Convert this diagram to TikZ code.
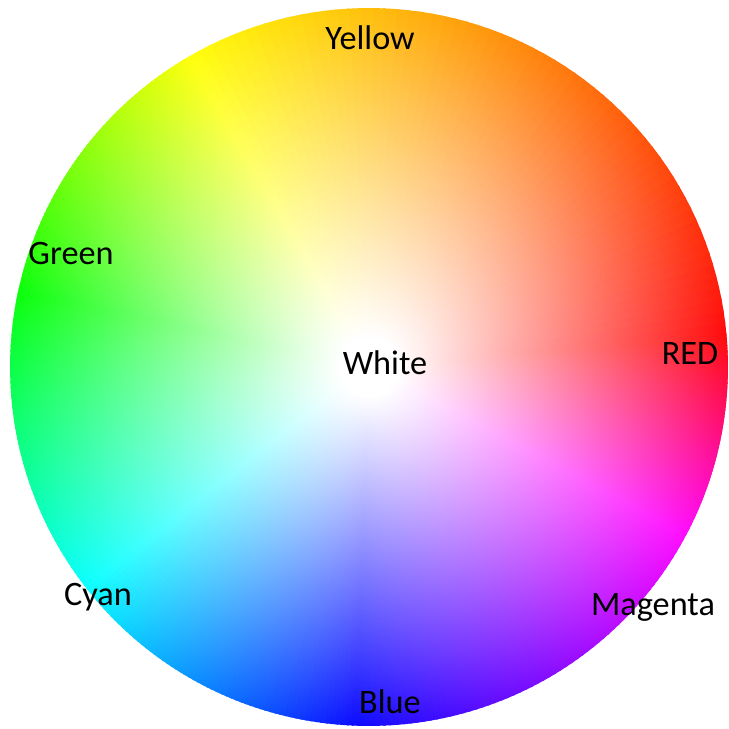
\documentclass[tikz,border=0pt]{standalone}
\usepackage{fontspec}
\setmainfont{Carlito}
\usepackage{tikz}
\usetikzlibrary{fadings}

\definecolor{hred}{rgb}{1,0,0}
\definecolor{hyellow}{rgb}{1,1,0}
\definecolor{hgreen}{rgb}{0,1,0}
\definecolor{hcyan}{rgb}{0,1,1}
\definecolor{hblue}{rgb}{0,0,1}
\definecolor{hmagenta}{rgb}{1,0,1}

% white glow from the middle of the wheel
\pgfdeclareradialshading{whiteshade}{\pgfpointorigin}{color(0bp)=(white); color(2bp)=(white); color(26bp)=(black); color(50bp)=(black)}
\pgfdeclarefading{whitefade}{\pgfuseshading{whiteshade}}

\begin{document}
\begin{tikzpicture}[
    x=0.02cm, y=0.02cm,
    lbl/.style={anchor=base, inner sep=0pt, text=black,
                font=\fontsize{19.5}{23}\selectfont}
]
    \def\rad{7.18cm}
    \useasboundingbox (-369,-362) rectangle (360,367);
    \fill[white] (-369,-362) rectangle (360,367);
    \coordinate (hub) at (0,0);

    % hue bands
    \foreach \from/\to/\ca/\cb in {5/120/hred/hyellow, 120/168/hyellow/hgreen,
        168/218/hgreen/hcyan, 218/268/hcyan/hblue, 268/332/hblue/hmagenta,
        332/365/hmagenta/hred}{
      \foreach \k in {0,...,59}{
        \pgfmathsetmacro{\aa}{\from+(\to-\from)*\k/60}
        \pgfmathsetmacro{\bb}{\from+(\to-\from)*(\k+1)/60+0.4}
        \pgfmathsetmacro{\mix}{100-100*(\k+0.5)/60}
        \fill[\ca!\mix!\cb] (hub) -- (\aa:\rad)
            arc[start angle=\aa, end angle=\bb, radius=\rad] -- cycle;
      }
    }
    \fill[white, path fading=whitefade] (hub) circle (\rad);

    \node[lbl] (yellow)  at (1,317)     {Yellow};
    \node[lbl] (green)   at (-298,102)  {Green};
    \node[lbl] (white)   at (16,-8)     {White};
    \node[lbl] (red)     at (321,2)     {RED};
    \node[lbl] (cyan)    at (-271,-238) {Cyan};
    \node[lbl] (magenta) at (284,-248)  {Magenta};
    \node[lbl] (blue)    at (21,-346)   {Blue};
\end{tikzpicture}
\end{document}
